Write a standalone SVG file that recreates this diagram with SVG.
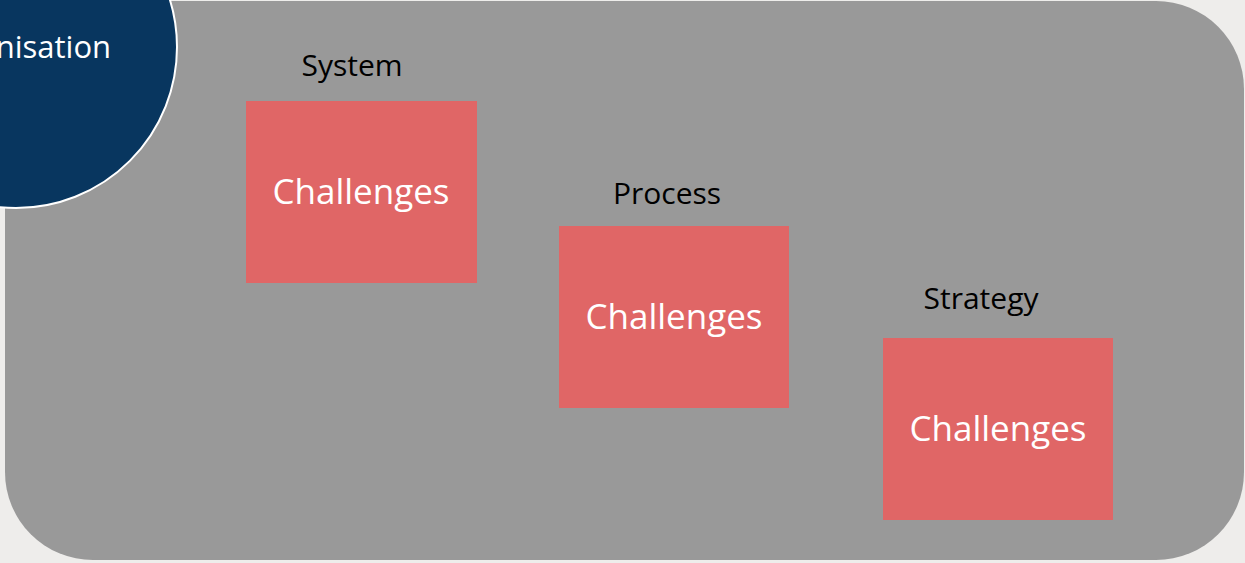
<svg xmlns="http://www.w3.org/2000/svg" width="1245" height="563" viewBox="0 0 1245 563">
<style>
.box{fill:#E06666}
.btxt{font-family:"Open Sans","Liberation Sans",sans-serif;font-size:35px;fill:#FFFFFF;text-anchor:middle}
.lbl{font-family:"Open Sans","Liberation Sans",sans-serif;font-size:30px;fill:#000000;text-anchor:middle}
</style>
<rect x="0" y="0" width="1245" height="563" fill="#EEEDEB"/>
<g id="panel"><rect x="5" y="1" width="1239" height="559" rx="88" ry="88" fill="#999999"/></g>
<g id="organisation">
<circle cx="16" cy="47" r="161" fill="#08365F" stroke="#FFFFFF" stroke-width="2"/>
<text x="18" y="58" font-family="'Open Sans','Liberation Sans',sans-serif" font-size="31" fill="#FFFFFF" text-anchor="middle">Organisation</text>
</g>
<g id="connectors"></g>
<g id="system">
<text class="lbl" x="352" y="76">System</text>
<rect class="box" x="246" y="101" width="231" height="182"/>
<text class="btxt" x="361" y="204">Challenges</text>
</g>
<g id="process">
<text class="lbl" x="667" y="204">Process</text>
<rect class="box" x="559" y="226" width="230" height="182"/>
<text class="btxt" x="674" y="329">Challenges</text>
</g>
<g id="strategy">
<text class="lbl" x="981" y="309">Strategy</text>
<rect class="box" x="883" y="338" width="230" height="182"/>
<text class="btxt" x="998" y="441">Challenges</text>
</g>
</svg>
